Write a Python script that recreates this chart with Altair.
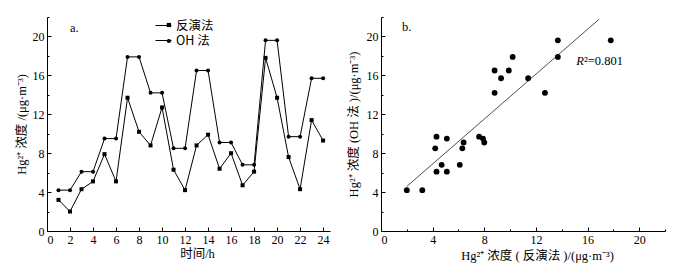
import altair as alt
import pandas as pd

hours = list(range(1, 25))
inv = [3.2, 2.0, 4.3, 5.1, 7.9, 5.1, 13.7, 10.2, 8.8, 12.7, 6.3, 4.2,
       8.8, 9.9, 6.4, 8.0, 4.7, 6.1, 17.8, 13.7, 7.6, 4.3, 11.4, 9.3]
oh = [4.2, 4.2, 6.1, 6.1, 9.5, 9.5, 17.9, 17.9, 14.2, 14.2, 8.5, 8.5,
      16.5, 16.5, 9.1, 9.1, 6.8, 6.8, 19.6, 19.6, 9.7, 9.7, 15.7, 15.7]
series_names = ["反演法", "OH 法"]
marker_keys = ["m1", "m2"]
shapes = ["square", "circle"]
r2_label = "0.801"

x_major_a = list(range(0, 25, 2))
y_major = [0, 4, 8, 12, 16, 20]
y_minor = [2, 6, 10, 14, 18, 22]
x_major_b = [0, 4, 8, 12, 16, 20]
x_minor_b = [2, 6, 10, 14, 18, 22]

SERIF = "Liberation Serif, Noto Sans CJK SC"
W_A, W_B, H = 283, 284, 214

long_rows = []
for h, a, b in zip(hours, inv, oh):
    long_rows.append({"hour": h, "value": a, "series": series_names[0], "mk": marker_keys[0]})
    long_rows.append({"hour": h, "value": b, "series": series_names[1], "mk": marker_keys[1]})
df_long = pd.DataFrame(long_rows)
df_pair = pd.DataFrame({"inv": inv, "oh": oh})


def major_axis(orient, values, labels=True):
    return alt.Axis(orient=orient, values=values, tickSize=4, offset=-4,
                    domain=False, labels=labels, labelPadding=3, title=None,
                    grid=False)


def minor_axis(orient, values):
    return alt.Axis(orient=orient, values=values, tickSize=2, offset=-2,
                    domain=False, labels=False, title=None, grid=False)


def domain_axis(orient, title, tx, ty):
    return alt.Axis(orient=orient, ticks=False, labels=False, domain=True,
                    title=title, titleX=tx, titleY=ty, titleBaseline="middle",
                    titleAlign="center", grid=False)


# ---------- panel a ----------
xa = alt.Scale(domain=[0, 24.6], nice=False, zero=False)
ya = alt.Scale(domain=[0, 22], nice=False)

base_a = alt.Chart(df_long)

lines_a = base_a.mark_line(strokeWidth=1).encode(
    x=alt.X("hour:Q", scale=xa, axis=major_axis("bottom", x_major_a)),
    y=alt.Y("value:Q", scale=ya, axis=major_axis("left", y_major)),
    color=alt.Color("series:N",
                    scale=alt.Scale(domain=series_names, range=["black", "black"]),
                    legend=alt.Legend(orient="none", legendX=108, legendY=0,
                                      title=None, symbolType="stroke",
                                      symbolSize=256, symbolStrokeWidth=1,
                                      symbolStrokeColor="black",
                                      labelFont="Noto Sans CJK SC",
                                      labelFontSize=12.5, labelOffset=4,
                                      rowPadding=0, padding=0, labelColor="black")),
    detail="series:N",
)

points_a = base_a.mark_point(filled=True, size=16, opacity=1, color="black").encode(
    x=alt.X("hour:Q", scale=xa, axis=domain_axis("bottom", "时间/h", 150, 22)),
    y=alt.Y("value:Q", scale=ya, axis=minor_axis("left", y_minor)),
    shape=alt.Shape("mk:N",
                    scale=alt.Scale(domain=marker_keys, range=shapes),
                    legend=alt.Legend(orient="none", legendX=113.9, legendY=0,
                                      title=None, symbolSize=18,
                                      symbolFillColor="black", symbolStrokeWidth=0,
                                      labelFontSize=16, labelExpr="' '",
                                      rowPadding=0, padding=0)),
)

yaxis_a = base_a.mark_point(opacity=0).encode(
    x=alt.X("hour:Q", scale=xa, axis=None),
    y=alt.Y("value:Q", scale=ya,
            axis=domain_axis("left", "Hg²⁺ 浓度 /(μg·m⁻³)", -25.6, H / 2)),
)

label_a = alt.Chart(pd.DataFrame({"t": ["a."]})).mark_text(
    font=SERIF, fontSize=12.5, align="left", baseline="middle", color="black"
).encode(x=alt.value(23), y=alt.value(11), text="t:N")

panel_a = alt.layer(lines_a, points_a, yaxis_a, label_a).resolve_axis(
    x="independent", y="independent").properties(width=W_A, height=H)

# ---------- panel b ----------
xb = alt.Scale(domain=[0, 22], nice=False)
yb = alt.Scale(domain=[0, 22], nice=False)
base_b = alt.Chart(df_pair)

points_b = base_b.mark_circle(size=34, opacity=1, color="black").encode(
    x=alt.X("inv:Q", scale=xb, axis=major_axis("bottom", x_major_b)),
    y=alt.Y("oh:Q", scale=yb, axis=major_axis("left", y_major)),
)

reg_b = base_b.transform_regression("inv", "oh", extent=[2, 16.9]).mark_line(
    color="#222222", strokeWidth=0.8
).encode(
    x=alt.X("inv:Q", scale=xb, axis=minor_axis("bottom", x_minor_b)),
    y=alt.Y("oh:Q", scale=yb, axis=minor_axis("left", y_minor)),
)

axes_b = base_b.mark_point(opacity=0).encode(
    x=alt.X("inv:Q", scale=xb,
            axis=domain_axis("bottom", "Hg²⁺ 浓度 ( 反演法 )/(μg·m⁻³)", 156, 24)),
    y=alt.Y("oh:Q", scale=yb,
            axis=domain_axis("left", "Hg²⁺ 浓度 (OH 法 )/(μg·m⁻³)", -27.4, H / 2)),
)

label_b = alt.Chart(pd.DataFrame({"t": ["b."]})).mark_text(
    font=SERIF, fontSize=12.5, align="left", baseline="middle", color="black"
).encode(x=alt.value(21), y=alt.value(10), text="t:N")

r_txt = alt.Chart(pd.DataFrame({"t": ["R"]})).mark_text(
    font="Liberation Serif", fontSize=12.5, fontStyle="italic", align="right",
    baseline="middle", color="black"
).encode(x=alt.value(203), y=alt.value(44), text="t:N")

r_val = alt.Chart(pd.DataFrame({"t": ["²=" + r2_label]})).mark_text(
    font="Liberation Serif", fontSize=12.5, align="left",
    baseline="middle", color="black"
).encode(x=alt.value(203), y=alt.value(44), text="t:N")

panel_b = alt.layer(points_b, reg_b, axes_b, label_b, r_txt, r_val).resolve_axis(
    x="independent", y="independent").properties(width=W_B, height=H)

chart = alt.hconcat(panel_a, panel_b, spacing=17).resolve_scale(
    color="independent", shape="independent"
).resolve_legend(
    color="independent", shape="independent"
).properties(
    padding={"left": 7, "top": 8, "right": 4, "bottom": 4}
).configure_view(stroke=None).configure_axis(
    labelFont="Liberation Serif", labelFontSize=12, labelColor="black",
    titleFont=SERIF, titleFontSize=12.5, titleFontWeight="normal",
    titleColor="black", domainColor="black", tickColor="black",
    domainWidth=1, tickWidth=1,
)

chart.save("out.html", embed_options={"renderer": "svg", "actions": False})
